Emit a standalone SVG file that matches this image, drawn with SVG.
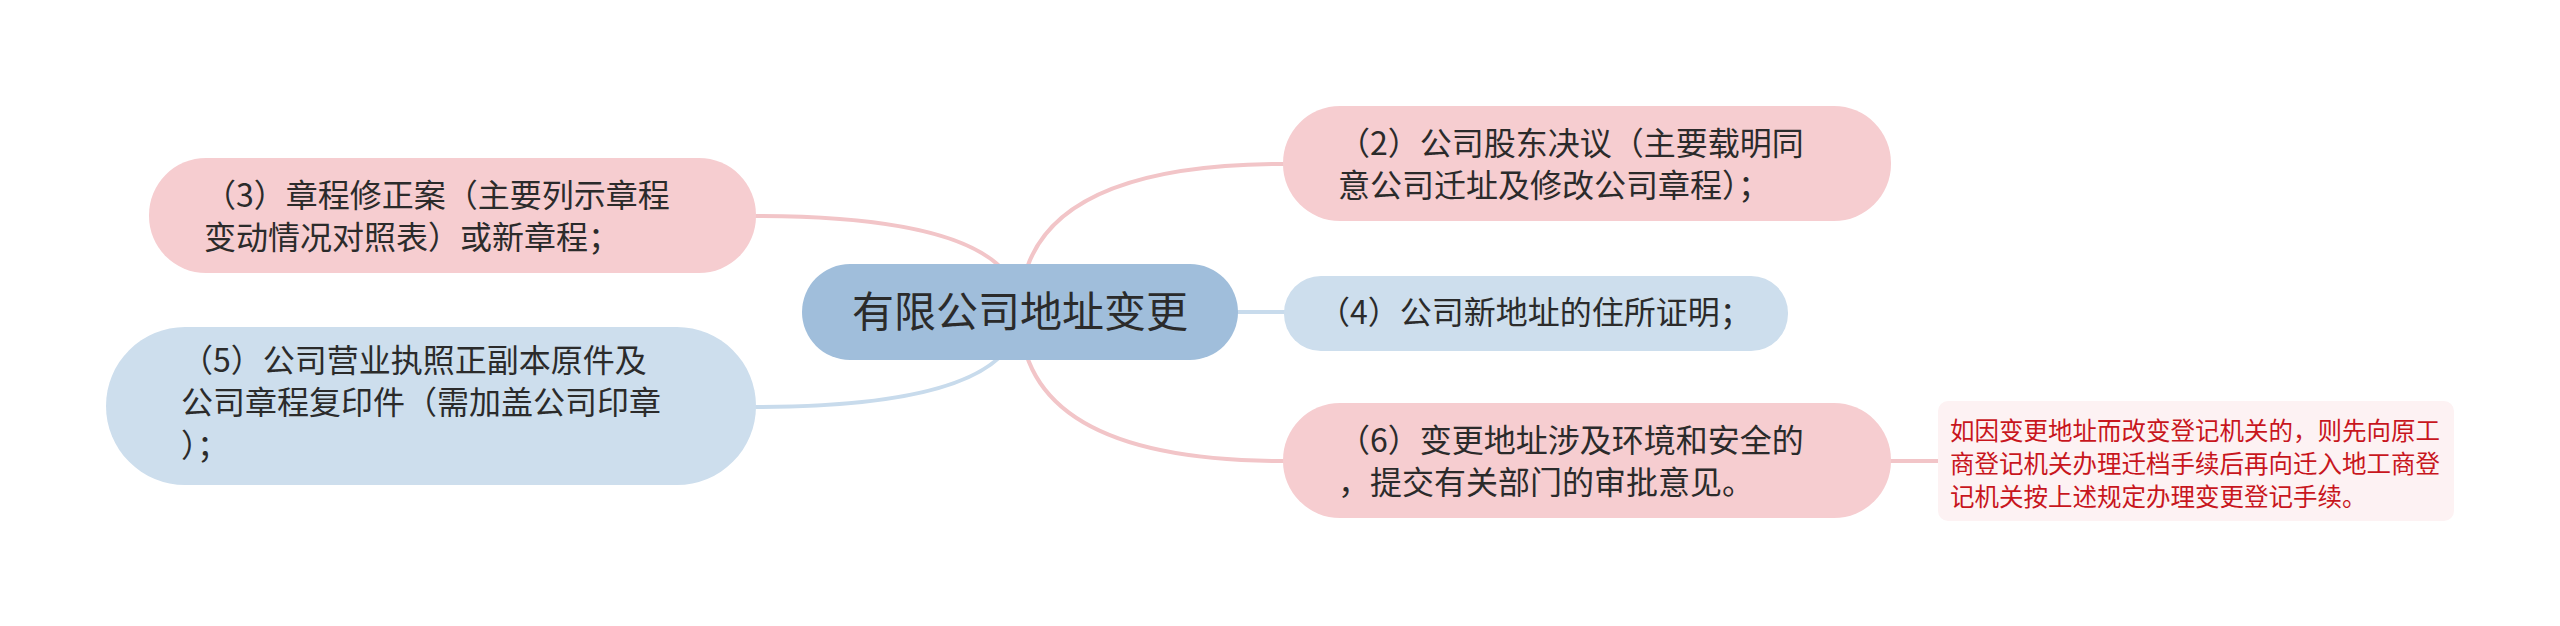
<svg xmlns="http://www.w3.org/2000/svg" width="2560" height="626" viewBox="0 0 2560 626">
<style>
text{font-family:"Noto Sans CJK SC","Noto Sans",sans-serif;fill:#2b2b2b}
.t{font-size:32px}
.c{font-size:42px}
.n{font-size:24.5px;fill:#c8161d}
.pk{fill:#f6cdd0}
.bl{fill:#cddeed}
.lp{fill:none;stroke:#f2c5c8;stroke-width:4}
.lb{fill:none;stroke:#c8dbec;stroke-width:4}
</style>
<rect width="2560" height="626" fill="#ffffff"/>
<g id="connectors">
<path class="lp" d="M1020 312 Q1020 164 1284 164"/>
<path class="lb" d="M1020 312 L1286 312"/>
<path class="lp" d="M1020 312 Q1020 461 1284 461"/>
<path class="lp" d="M1020 312 Q1020 216 754 216"/>
<path class="lb" d="M1020 312 Q1020 407 754 407"/>
<path class="lp" d="M1890 461 L1940 461"/>
</g>
<g id="node-center">
<rect x="802" y="264" width="436" height="96" rx="48" fill="#a0bedb"/>
<text class="c" x="1020" y="327" text-anchor="middle">有限公司地址变更</text>
</g>
<g id="node-2">
<rect class="pk" x="1283" y="106" width="608" height="115" rx="57"/>
<text class="t" x="1338" y="155">（2）公司股东决议（主要载明同</text>
<text class="t" x="1338" y="197">意公司迁址及修改公司章程）；</text>
</g>
<g id="node-4">
<rect class="bl" x="1284" y="276" width="504" height="75" rx="37"/>
<text class="t" x="1318" y="324">（4）公司新地址的住所证明；</text>
</g>
<g id="node-6">
<rect class="pk" x="1283" y="403" width="608" height="115" rx="57"/>
<text class="t" x="1338" y="452">（6）变更地址涉及环境和安全的</text>
<text class="t" x="1338" y="494">，提交有关部门的审批意见。</text>
</g>
<g id="node-note">
<rect x="1938" y="401" width="516" height="120" rx="10" fill="#fdf2f3"/>
<text class="n" x="1950" y="440">如因变更地址而改变登记机关的，则先向原工</text>
<text class="n" x="1950" y="473">商登记机关办理迁档手续后再向迁入地工商登</text>
<text class="n" x="1950" y="506">记机关按上述规定办理变更登记手续。</text>
</g>
<g id="node-3">
<rect class="pk" x="149" y="158" width="607" height="115" rx="57"/>
<text class="t" x="204" y="207">（3）章程修正案（主要列示章程</text>
<text class="t" x="204" y="249">变动情况对照表）或新章程；</text>
</g>
<g id="node-5">
<rect class="bl" x="106" y="327" width="650" height="158" rx="79"/>
<text class="t" x="181" y="372">（5）公司营业执照正副本原件及</text>
<text class="t" x="181" y="414">公司章程复印件（需加盖公司印章</text>
<text class="t" x="181" y="457">）；</text>
</g>
</svg>
